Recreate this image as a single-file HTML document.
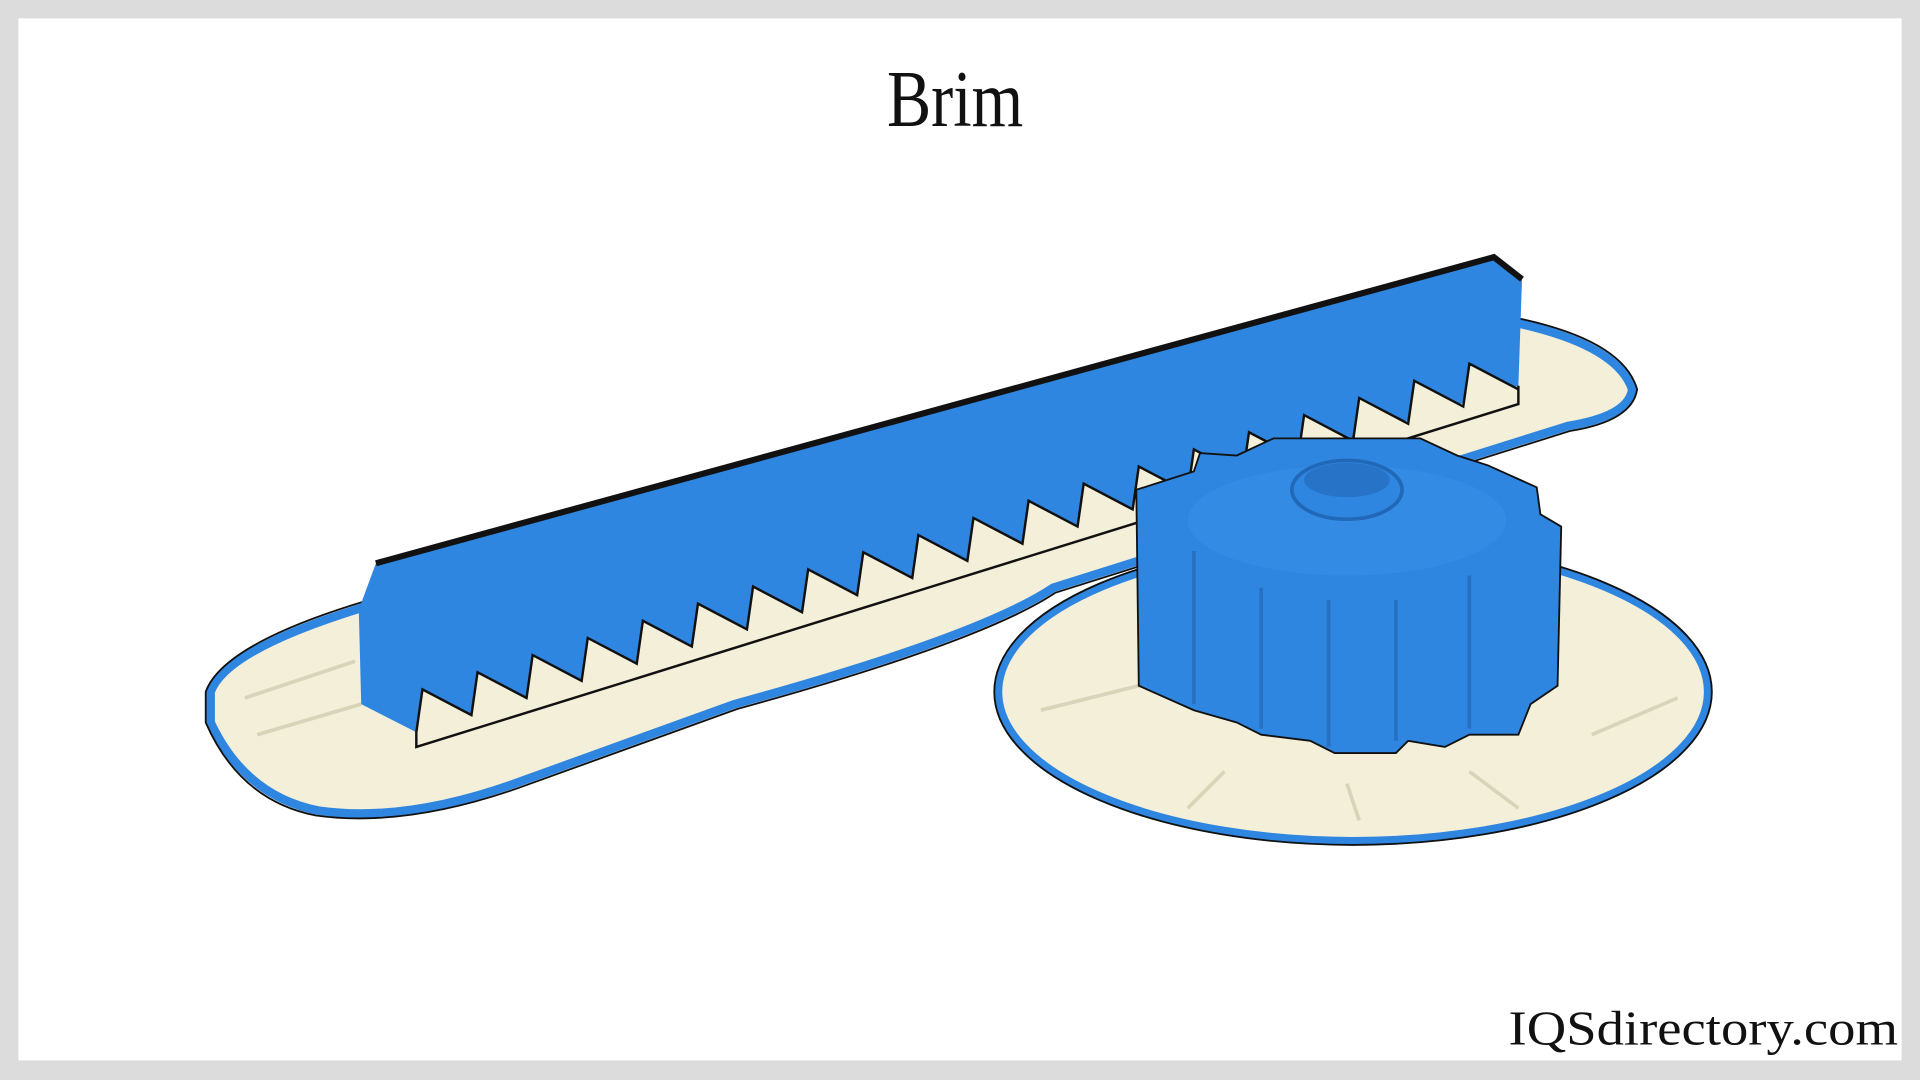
<!DOCTYPE html>
<html><head><meta charset="utf-8"><style>
html,body{margin:0;padding:0;width:1920px;height:1080px;overflow:hidden;background:#dcdcdc}
svg{display:block}
</style></head><body>
<svg width="1920" height="1080" viewBox="0 0 1568 882" xmlns="http://www.w3.org/2000/svg">
<rect x="0" y="0" width="1568" height="882" fill="#dcdcdc"/>
<rect x="15" y="15" width="1538" height="851" fill="#ffffff"/>
<text x="780" y="103" text-anchor="middle" font-family="Liberation Serif, serif" font-size="66" fill="#111" transform="translate(780 0) scale(0.82 1) translate(-780 0)">Brim</text>
<text x="1232" y="853" font-family="Liberation Serif, serif" font-size="40" fill="#111" textLength="318" lengthAdjust="spacingAndGlyphs">IQSdirectory.com</text>

<!-- gear brim -->
<ellipse cx="1105" cy="565" rx="290" ry="122" fill="#f3efd8" stroke="#2f86e0" stroke-width="7"/>
<ellipse cx="1105" cy="565" rx="293" ry="125" fill="none" stroke="#111" stroke-width="1.5"/>
<!-- rack brim -->
<path d="M172,565 Q185,530 300,495 L1230,262 Q1320,280 1333,318 Q1330,340 1280,348 L860,480 Q800,520 600,575 L420,640 Q330,672 260,662 Q200,650 172,590 Z" fill="#f3efd8" stroke="#2f86e0" stroke-width="7"/>
<path d="M168,565 Q182,526 298,491 L1230,258 Q1325,276 1337,318 Q1333,344 1282,352 L862,484 Q802,524 602,579 L422,644 Q330,676 258,666 Q196,654 168,590 Z" fill="none" stroke="#111" stroke-width="1.5"/>
<g stroke="#c9c3a5" stroke-width="3" opacity="0.6">
<line x1="200" y1="570" x2="290" y2="540"/><line x1="210" y1="600" x2="295" y2="575"/>
<line x1="850" y1="580" x2="930" y2="560"/><line x1="1300" y1="600" x2="1370" y2="570"/>
<line x1="1100" y1="640" x2="1110" y2="670"/><line x1="1000" y1="630" x2="970" y2="660"/><line x1="1200" y1="630" x2="1240" y2="660"/>
</g>
<!-- rack body -->
<path d="M293,498 L307,460 L1220,210 L1243,228 L1240,315 L340,598 L295,575 Z" fill="#2f86e0"/>
<path d="M307,460 L1220,210 L1243,228" fill="none" stroke="#111" stroke-width="5"/>
<path d="M340,598 l5 -35 l40 21 l5 -35 l40 21 l5 -35 l40 21 l5 -35 l40 21 l5 -35 l40 21 l5 -35 l40 21 l5 -35 l40 21 l5 -35 l40 21 l5 -35 l40 21 l5 -35 l40 21 l5 -35 l40 21 l5 -35 l40 21 l5 -35 l40 21 l5 -35 l40 21 l5 -35 l40 21 l5 -35 l40 21 l5 -35 l40 21 l5 -35 l40 21 l5 -35 l40 21 l5 -35 l40 21 L1240,315 L1240,330 L340,610 Z" fill="#f3efd8" stroke="#111" stroke-width="2"/>
<!-- gear body -->
<path d="M928,400 L975,385 L980,370 L1010,372 L1040,358 L1160,358 L1190,372 L1215,380 L1255,398 L1258,420 L1275,430 L1272,560 L1250,575 L1240,600 L1200,600 L1180,610 L1150,605 L1140,615 L1090,615 L1070,605 L1030,600 L1010,590 L975,580 L930,560 Z" fill="#2f86e0" stroke="#111" stroke-width="1.5"/>
<g stroke="#2268b8" stroke-width="3" fill="none" opacity="0.7">
<line x1="1030" y1="480" x2="1030" y2="595"/><line x1="1085" y1="490" x2="1085" y2="610"/><line x1="1140" y1="490" x2="1140" y2="605"/><line x1="1200" y1="470" x2="1200" y2="595"/><line x1="975" y1="450" x2="975" y2="575"/>
</g>
<ellipse cx="1100" cy="425" rx="130" ry="45" fill="#3990e6" opacity="0.6"/>
<ellipse cx="1100" cy="400" rx="45" ry="24" fill="#2f86e0" stroke="#2268b8" stroke-width="3"/>
<ellipse cx="1100" cy="392" rx="35" ry="14" fill="#2268b8" opacity="0.6"/>
</svg>
</body></html>
